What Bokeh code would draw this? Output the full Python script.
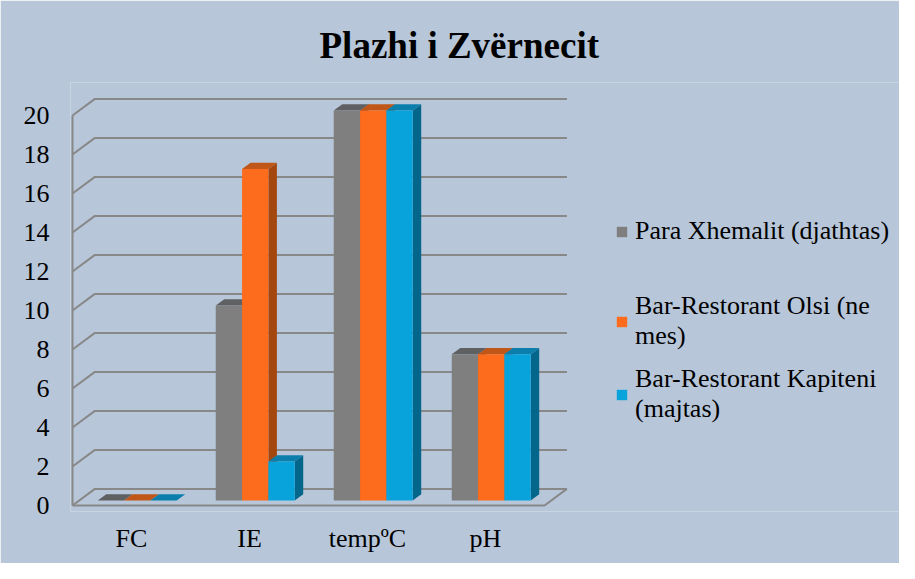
from bokeh.plotting import figure
from bokeh.models import Range1d, FixedTicker, Legend, LegendItem
from bokeh.embed import file_html
from bokeh.resources import INLINE

# ---- data ----
categories = ["FC", "IE", "tempºC", "pH"]
series_names = ["Para Xhemalit (djathtas)",
                "Bar-Restorant Olsi (ne\nmes)",
                "Bar-Restorant Kapiteni\n(majtas)"]
para_xhemalit = [0, 10, 20, 7.5]
bar_olsi = [0, 17, 20, 7.5]
bar_kapiteni = [0, 2, 20, 7.5]
y_ticks = [0, 2, 4, 6, 8, 10, 12, 14, 16, 18, 20]

series = [para_xhemalit, bar_olsi, bar_kapiteni]
front_colors = ["#7F7F7F", "#FD6B1C", "#09A3DC"]
top_colors = ["#5F6062", "#C05617", "#0B7EAC"]
side_colors = ["#58595B", "#A3470F", "#05668C"]

BG = "#B7C6D9"
GRID = "#888888"
FONT = "Liberation Serif"

# 3D styling constants (in data units)
DX, DY = 0.19, 0.85          # floor depth offset
B0, BD = 0.30, 0.38          # bar depth start and depth fraction
INSET, BW = 0.157, 0.223     # group inset and bar width

n = len(categories)
px_per_x = 118.0
px_per_y = 19.5
W, H = 899, 563
frame_left, frame_right = 70, W
frame_top, frame_bottom = 82, 511

x_start = -2 / px_per_x
x_end = x_start + (frame_right - frame_left) / px_per_x
y_start = -6 / px_per_y
y_end = y_start + (frame_bottom - frame_top) / px_per_y

p = figure(width=W, height=H, output_backend="svg", toolbar_location=None,
           x_range=Range1d(x_start, x_end), y_range=Range1d(y_start, y_end),
           min_border_left=frame_left, min_border_right=W - frame_right,
           min_border_top=frame_top, min_border_bottom=H - frame_bottom)
p.background_fill_color = BG
p.border_fill_color = BG
p.outline_line_color = None
p.xgrid.visible = False
p.ygrid.visible = False

# title
p.title.text = "Plazhi i Zvërnecit"
p.title.text_font = FONT
p.title.text_font_style = "bold"
p.title.text_font_size = "37px"
p.title.text_color = "black"
p.title.align = "left"
p.title.offset = 249
p.title.standoff = 30
p.title.vertical_align = "top"

# walls / gridlines
gx, gy = [], []
for v in y_ticks:
    gx.append([0, DX, n + DX]); gy.append([v, v + DY, v + DY])
gx.append([0, 0]); gy.append([0, y_ticks[-1]])
gx.append([0, n, n + DX]); gy.append([0, 0, DY])
p.multi_line(gx, gy, line_color=GRID, line_width=2)

# bars
sides = [([], []) for _ in series]
tops = [([], []) for _ in series]
fronts = [([], []) for _ in series]
dxb, dyb = B0 * DX, B0 * DY
ddx, ddy = BD * DX, BD * DY
for c in range(n):
    for i, vals in enumerate(series):
        v = vals[c]
        x0 = c + INSET + i * BW + dxb
        x1 = x0 + BW
        y0 = dyb
        y1 = v + dyb
        fronts[i][0].append([x0, x1, x1, x0]); fronts[i][1].append([y0, y0, y1, y1])
        tops[i][0].append([x0, x1, x1 + ddx, x0 + ddx]); tops[i][1].append([y1, y1, y1 + ddy, y1 + ddy])
        sides[i][0].append([x1, x1 + ddx, x1 + ddx, x1]); sides[i][1].append([y0, y0 + ddy, y1 + ddy, y1])

for i in range(len(series)):
    p.patches(sides[i][0], sides[i][1], fill_color=side_colors[i], line_color=None)
for i in range(len(series)):
    p.patches(tops[i][0], tops[i][1], fill_color=top_colors[i], line_color=None)
front_renderers = []
for i in range(len(series)):
    r = p.patches(fronts[i][0], fronts[i][1], fill_color=front_colors[i], line_color=None)
    front_renderers.append(r)

# axes
ya = p.yaxis[0]
ya.ticker = FixedTicker(ticks=y_ticks)
ya.axis_line_color = None
ya.major_tick_line_color = None
ya.minor_tick_line_color = None
ya.major_label_standoff = 15
ya.major_label_text_font = FONT
ya.major_label_text_font_size = "26px"
ya.major_label_text_color = "black"

xa = p.xaxis[0]
xa.ticker = FixedTicker(ticks=[c + 0.5 for c in range(n)])
xa.major_label_overrides = {c + 0.5: categories[c] for c in range(n)}
xa.axis_line_color = None
xa.major_tick_line_color = None
xa.minor_tick_line_color = None
xa.major_label_standoff = 6
xa.major_label_text_font = FONT
xa.major_label_text_font_size = "26px"
xa.major_label_text_color = "black"

# legends
def make_legend(items, loc, spacing):
    lg = Legend(items=items, location=loc, spacing=spacing,
                glyph_width=13, glyph_height=13, label_standoff=7,
                padding=0, margin=0,
                background_fill_alpha=0, border_line_color=None,
                label_text_font=FONT, label_text_font_size="26px",
                label_text_color="black", label_text_line_height=1.15)
    return lg

lg1 = make_legend([LegendItem(label=series_names[0], renderers=[front_renderers[0]])],
                  (545, 265), 0)
lg2 = make_legend([LegendItem(label=series_names[1], renderers=[front_renderers[1]]),
                   LegendItem(label=series_names[2], renderers=[front_renderers[2]])],
                  (545, 87), 13)
p.add_layout(lg1, "center")
p.add_layout(lg2, "center")

open("out.html", "w").write(file_html(p, INLINE))
